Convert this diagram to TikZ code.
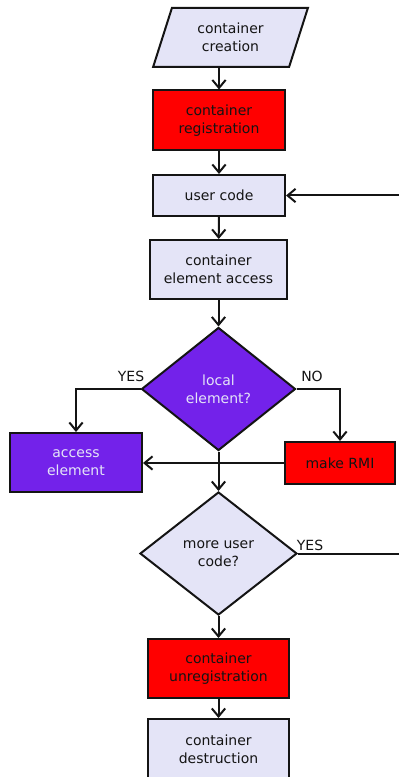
\documentclass[tikz,border=0pt]{standalone}
\usepackage{fontspec}
\setmainfont{DejaVu Sans}
\usetikzlibrary{shapes.geometric,arrows.meta}
\definecolor{lav}{HTML}{E4E4F7}
\definecolor{procpurple}{HTML}{7322EA}
\definecolor{edgeink}{HTML}{141414}
\begin{document}
\begin{tikzpicture}[x=0.75pt,y=-0.75pt,
  font=\fontsize{10.5}{13.2}\selectfont,
  base/.style={draw=edgeink, line width=1.5pt, align=center, inner sep=0pt, text=edgeink},
  lightfill/.style={base, fill=lav},
  redfill/.style={base, fill=red},
  purplefill/.style={base, fill=procpurple, text=lav},
  flow/.style={line width=1.5pt, draw=edgeink,
    -{Straight Barb[length=6pt,width=10pt,line width=1.5pt]}},
  branch/.style={text=edgeink, inner sep=0pt}]
\useasboundingbox (0,0) rectangle (399,777);
\clip (0,0) rectangle (399,777);

% main column
\node[lightfill, trapezium, trapezium left angle=69.5, trapezium right angle=110.5,
      trapezium stretches=true, minimum width=116.25pt, minimum height=44.25pt]
      (create) at (230.5,37.5) {container\\creation};
\node[redfill, rectangle, minimum width=99pt, minimum height=45pt]
      (reg) at (219,120.5) {container\\registration};
\node[lightfill, rectangle, minimum width=99pt, minimum height=30.75pt]
      (user) at (219,195.5) {user code};
\node[lightfill, rectangle, minimum width=102.75pt, minimum height=44.25pt]
      (eacc) at (218.5,269.5) {container\\element access};
\node[purplefill, diamond, minimum width=115.5pt, minimum height=92.25pt]
      (local) at (218.5,389) {local\\element?};
\node[purplefill, rectangle, minimum width=99pt, minimum height=44.25pt]
      (access) at (76,462.5) {access\\element};
\node[redfill, rectangle, minimum width=82.5pt, minimum height=31.5pt]
      (rmi) at (340,463) {make RMI};
\node[lightfill, diamond, minimum width=117.75pt, minimum height=92.25pt]
      (more) at (218.5,553.5) {more user\\code?};
\node[redfill, rectangle, minimum width=105.75pt, minimum height=44.25pt]
      (unreg) at (218.5,668.5) {container\\unregistration};
\node[lightfill, rectangle, minimum width=105.75pt, minimum height=45pt]
      (destr) at (218.5,749) {container\\destruction};

% branch labels
\node[branch] (yesl) at (131,376) {YES};
\node[branch] (nol) at (312,376) {NO};
\node[branch] (yesm) at (310,545) {YES};

% return loop runs outside the frame on the right
\coordinate (loopbot) at (420,553.5);

% connectors
\draw[flow] (create.south -| reg.north) -- (reg.north);
\draw[flow] (reg) -- (user);
\draw[flow] (user) -- (eacc);
\draw[flow] (eacc) -- (local);
\draw[flow] (local.west) -| (access.north);
\draw[flow] (local.east) -| (rmi.north);
\draw[flow] (rmi.west) -- (rmi.west -| access.east);
\draw[flow] (local.south) -- (more.north);
\draw[flow] (more) -- (unreg);
\draw[flow] (unreg) -- (destr);
\draw[flow] (more.east) -- (loopbot) |- (user.east);
\end{tikzpicture}
\end{document}
